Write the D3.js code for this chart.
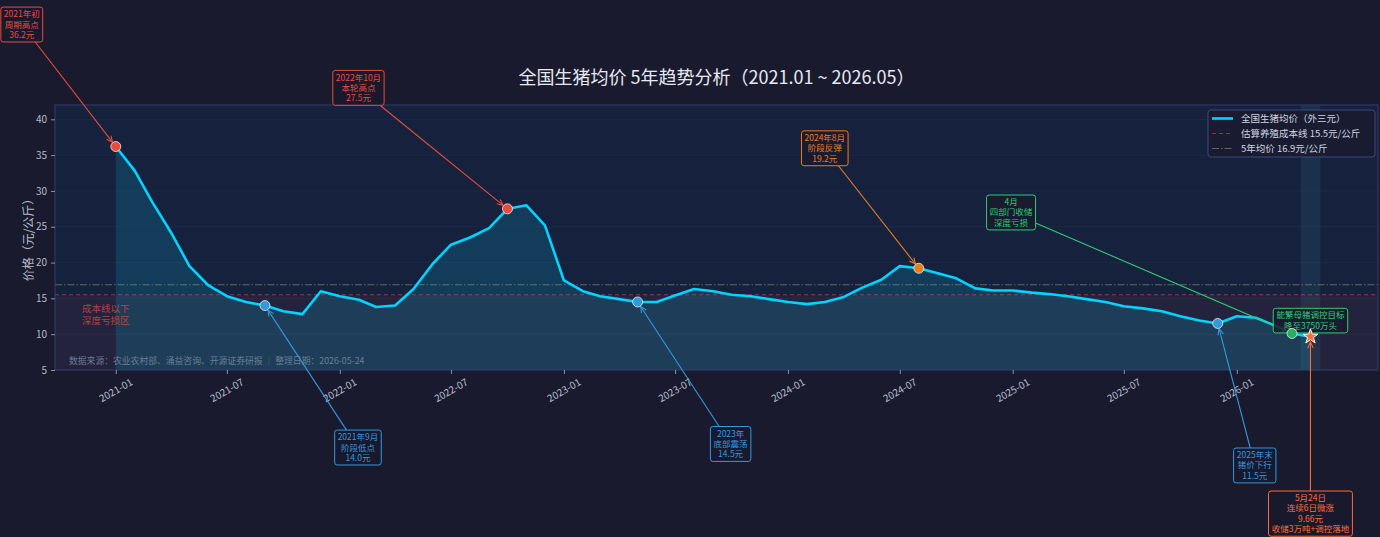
<!DOCTYPE html>
<html>
<head>
<meta charset="utf-8">
<script src="https://cdn.jsdelivr.net/npm/d3@7"></script>
<style>
  body{margin:0;background:#1a1a2e;}
  svg{display:block;font-family:"Noto Sans CJK SC","DejaVu Sans",sans-serif;}
</style>
</head>
<body>
<svg id="chart" width="1380" height="537"></svg>
<script>
//Data
var months = ["2021-01","2021-02","2021-03","2021-04","2021-05","2021-06","2021-07","2021-08","2021-09","2021-10","2021-11","2021-12",
              "2022-01","2022-02","2022-03","2022-04","2022-05","2022-06","2022-07","2022-08","2022-09","2022-10","2022-11","2022-12",
              "2023-01","2023-02","2023-03","2023-04","2023-05","2023-06","2023-07","2023-08","2023-09","2023-10","2023-11","2023-12",
              "2024-01","2024-02","2024-03","2024-04","2024-05","2024-06","2024-07","2024-08","2024-09","2024-10","2024-11","2024-12",
              "2025-01","2025-02","2025-03","2025-04","2025-05","2025-06","2025-07","2025-08","2025-09","2025-10","2025-11","2025-12",
              "2026-01","2026-02","2026-03","2026-04","2026-05"];
var prices = [36.2,32.8,28.5,24.2,19.5,16.8,15.3,14.5,14.0,13.2,12.8,16.0,
              15.3,14.8,13.8,14.0,16.3,19.8,22.5,23.5,24.8,27.5,28.0,25.2,
              17.5,16.0,15.3,14.9,14.5,14.5,15.4,16.3,16.0,15.5,15.3,14.9,
              14.5,14.2,14.5,15.2,16.5,17.6,19.5,19.2,18.5,17.8,16.4,16.1,
              16.1,15.8,15.6,15.3,14.9,14.5,13.9,13.6,13.2,12.5,11.9,11.5,
              12.5,12.3,11.3,10.1,9.66];
var costLine = 15.5;
var avgLine = 16.9;
var yTicks = [5,10,15,20,25,30,35,40];
var xTickLabels = ["2021-01","2021-07","2022-01","2022-07","2023-01","2023-07","2024-01","2024-07","2025-01","2025-07","2026-01"];
var legendLabels = ["全国生猪均价（外三元）","估算养殖成本线 15.5元/公斤","5年均价 16.9元/公斤"];
var bandDates = ["2026-04-15","2026-05-17"];

//Annotations: which month, text lines
var annoMonths = ["2021-01","2022-10","2024-08","2026-04","2026-05","2021-09","2023-05","2025-12","2026-05"];
var annoTexts = [
  ["2021年初","周期高点","36.2元"],
  ["2022年10月","本轮高点","27.5元"],
  ["2024年8月","阶段反弹","19.2元"],
  ["4月","四部门收储","深度亏损"],
  ["能繁母猪调控目标","降至3750万头"],
  ["2021年9月","阶段低点","14.0元"],
  ["2023年","底部震荡","14.5元"],
  ["2025年末","猪价下行","11.5元"],
  ["5月24日","连续6日微涨","9.66元","收储3万吨+调控落地"]
];
//box offsets from the point (px) and colours
var annoStyle = [
  {dx:-94, dy:-122, color:"#e74c3c", arrow:true},
  {dx:-149,dy:-121, color:"#e74c3c", arrow:true},
  {dx:-94, dy:-120, color:"#e67e22", arrow:true},
  {dx:-281,dy:-121, color:"#2ecc71", arrow:true},
  {dx:0,   dy:-16,  color:"#2ecc71", arrow:false},
  {dx:93,  dy:142,  color:"#3498db", arrow:true},
  {dx:93,  dy:142,  color:"#3498db", arrow:true},
  {dx:37,  dy:142,  color:"#3498db", arrow:true},
  {dx:0,   dy:177,  color:"#ff6b35", arrow:true}
];
var markMonths = ["2021-01","2022-10","2021-09","2023-05","2025-12","2024-08","2026-04"];
var markColors = ["#e74c3c","#e74c3c","#3498db","#3498db","#3498db","#e67e22","#27ae60"];
var starMonth = "2026-05";

//Layout
var plotL = 55, plotR = 1378, plotT = 105, plotB = 370;
var svg = d3.select("#chart");
var parseM = d3.utcParse("%Y-%m");
var parseD = d3.utcParse("%Y-%m-%d");

var x = d3.scaleUtc().domain([new Date(Date.UTC(2020,8,24)), new Date(Date.UTC(2026,7,19))]).range([plotL,plotR]);
var y = d3.scaleLinear().domain([5,42]).range([plotB,plotT]);

var data = months.map(function(m,i){ return {date:parseM(m), v:prices[i]}; });
function valueAt(m){ return prices[months.indexOf(m)]; }

svg.append("rect").attr("width",1380).attr("height",537).attr("fill","#1a1a2e");

//plot background
svg.append("rect").attr("x",plotL).attr("y",plotT).attr("width",plotR-plotL).attr("height",plotB-plotT).attr("fill","#16213e");

//grid
svg.append("g").selectAll("line").data(yTicks).enter().append("line")
  .attr("x1",plotL).attr("x2",plotR).attr("y1",function(d){return y(d);}).attr("y2",function(d){return y(d);})
  .attr("stroke","#ffffff").attr("stroke-opacity",0.05).attr("stroke-width",0.8);

//loss zone
svg.append("rect").attr("x",plotL).attr("width",plotR-plotL)
  .attr("y",y(costLine)).attr("height",y(5)-y(costLine))
  .attr("fill","#e74c3c").attr("fill-opacity",0.07);

//recent band
svg.append("rect").attr("x",x(parseD(bandDates[0]))).attr("width",x(parseD(bandDates[1]))-x(parseD(bandDates[0])))
  .attr("y",plotT).attr("height",plotB-plotT).attr("fill","#4ecdc4").attr("fill-opacity",0.09);

//area under curve
var area = d3.area().x(function(d){return x(d.date);}).y0(y(5)).y1(function(d){return y(d.v);});
svg.append("path").datum(data).attr("d",area).attr("fill","#00d4ff").attr("fill-opacity",0.15);

//reference lines
svg.append("line").attr("x1",plotL).attr("x2",plotR).attr("y1",y(costLine)).attr("y2",y(costLine))
  .attr("stroke","#e74c3c").attr("stroke-opacity",0.6).attr("stroke-width",1.1).attr("stroke-dasharray","4,3");
svg.append("line").attr("x1",plotL).attr("x2",plotR).attr("y1",y(avgLine)).attr("y2",y(avgLine))
  .attr("stroke","#a0a080").attr("stroke-opacity",0.55).attr("stroke-width",1.1).attr("stroke-dasharray","7,2,1.5,2");

//main line
var line = d3.line().x(function(d){return x(d.date);}).y(function(d){return y(d.v);});
svg.append("path").datum(data).attr("d",line).attr("fill","none")
  .attr("stroke","#00d4ff").attr("stroke-width",2.6).attr("stroke-linejoin","round");

//frame
svg.append("rect").attr("x",plotL).attr("y",plotT).attr("width",plotR-plotL).attr("height",plotB-plotT)
  .attr("fill","none").attr("stroke","#2d3e6b").attr("stroke-width",1);

//axes
var yAxis = svg.append("g").attr("transform","translate("+plotL+",0)")
  .call(d3.axisLeft(y).tickValues(yTicks).tickSize(4).tickPadding(4));
var xAxis = svg.append("g").attr("transform","translate(0,"+plotB+")")
  .call(d3.axisBottom(x).tickValues(xTickLabels.map(parseM)).tickFormat(d3.utcFormat("%Y-%m")).tickSize(4));
[yAxis,xAxis].forEach(function(a){
  a.select(".domain").remove();
  a.selectAll("line").attr("stroke","#8a93a8");
  a.selectAll("text").attr("fill","#b4bac8").attr("font-size","10px").attr("font-family","\"Noto Sans CJK SC\",\"DejaVu Sans\",sans-serif");
});
xAxis.selectAll("text").attr("y",0).attr("dy",null).attr("text-anchor","middle")
  .attr("dominant-baseline","middle").attr("transform","translate(0,21) rotate(-30)");

//texts inside plot
var lossTxt = svg.append("text").attr("x",82).attr("y",312).attr("fill","#e74c3c").attr("fill-opacity",0.75).attr("font-size","9.5px");
lossTxt.append("tspan").attr("x",82).text("成本线以下");
lossTxt.append("tspan").attr("x",82).attr("dy",11.5).text("深度亏损区");

svg.append("text").attr("x",69).attr("y",364).attr("fill","#8090a8").attr("fill-opacity",0.8).attr("font-size","8.8px")
  .text("数据来源：农业农村部、涌益咨询、开源证券研报  │  整理日期：2026-05-24");

//annotations
var annoG = svg.append("g");
annoMonths.forEach(function(m,i){
  var st = annoStyle[i];
  var px = x(parseM(m)), py = y(valueAt(m));
  var bx = px+st.dx, by = py+st.dy;
  var lines = annoTexts[i];
  var lh = 10.3;
  var g = annoG.append("g");
  var rect = g.append("rect");
  var t = g.append("text").attr("text-anchor","middle").attr("font-size","8.5px").attr("fill",st.color);
  lines.forEach(function(s,k){
    t.append("tspan").attr("x",bx).attr("y",by-(lines.length-1)*lh/2+k*lh+3).text(s);
  });
  var bb = t.node().getBBox();
  var pw = 3, ph = 2;
  var rx0 = bx-bb.width/2-pw, rx1 = bx+bb.width/2+pw;
  var ry0 = by-lines.length*lh/2-ph, ry1 = by+lines.length*lh/2+ph;
  rect.attr("x",rx0).attr("y",ry0).attr("width",rx1-rx0).attr("height",ry1-ry0).attr("rx",2.5)
    .attr("fill","#1a1a2e").attr("fill-opacity",0.85).attr("stroke",st.color).attr("stroke-width",1);
  if(st.arrow){
    //start on the box edge
    var ddx = px-bx, ddy = py-by;
    var hw = (rx1-rx0)/2, hh = (ry1-ry0)/2;
    var s = Math.min(ddx===0?Infinity:hw/Math.abs(ddx), ddy===0?Infinity:hh/Math.abs(ddy));
    var sx = bx+ddx*s, sy = by+ddy*s;
    var len = Math.sqrt((px-sx)*(px-sx)+(py-sy)*(py-sy));
    var ux = (px-sx)/len, uy = (py-sy)/len;
    var ex = px-ux*5.5, ey = py-uy*5.5;
    annoG.insert("line",":first-child").attr("x1",sx).attr("y1",sy).attr("x2",ex).attr("y2",ey)
      .attr("stroke",st.color).attr("stroke-width",1.1);
    var hl = 6, hwid = 2.8;
    annoG.insert("path",":first-child")
      .attr("d","M"+(ex-ux*hl-uy*hwid)+","+(ey-uy*hl+ux*hwid)+"L"+ex+","+ey+"L"+(ex-ux*hl+uy*hwid)+","+(ey-uy*hl-ux*hwid))
      .attr("fill","none").attr("stroke",st.color).attr("stroke-width",1.1);
  }
});

//point markers
svg.append("g").selectAll("circle").data(markMonths).enter().append("circle")
  .attr("cx",function(m){return x(parseM(m));}).attr("cy",function(m){return y(valueAt(m));})
  .attr("r",5).attr("fill",function(m,i){return markColors[i];})
  .attr("stroke","#ffffff").attr("stroke-opacity",0.7).attr("stroke-width",1);
svg.append("path").attr("d",d3.symbol(d3.symbolStar).size(70)())
  .attr("transform","translate("+x(parseM(starMonth))+","+y(valueAt(starMonth))+")")
  .attr("fill","#ff6b35").attr("stroke","#ffffff").attr("stroke-width",1);

//legend
var lg = svg.append("g");
lg.append("rect").attr("x",1208).attr("y",110).attr("width",167).attr("height",47).attr("rx",3)
  .attr("fill","#1a1a2e").attr("fill-opacity",0.85).attr("stroke","#3a4a7a").attr("stroke-width",1);
var legStyles = [
  {stroke:"#00d4ff", w:2.6, dash:null, op:1},
  {stroke:"#e74c3c", w:1.1, dash:"4,3", op:0.6},
  {stroke:"#a0a080", w:1.1, dash:"7,2,1.5,2", op:0.55}
];
legendLabels.forEach(function(l,i){
  var yy = 118.5+i*15;
  lg.append("line").attr("x1",1212).attr("x2",1233).attr("y1",yy).attr("y2",yy)
    .attr("stroke",legStyles[i].stroke).attr("stroke-width",legStyles[i].w)
    .attr("stroke-dasharray",legStyles[i].dash).attr("stroke-opacity",legStyles[i].op);
  lg.append("text").attr("x",1241).attr("y",yy+3.5).attr("fill","#d0d4e0").attr("font-size","9.5px").text(l);
});

//title and axis label
svg.append("text").attr("x",(plotL+plotR)/2).attr("y",84).attr("text-anchor","middle")
  .attr("fill","#e6e8f0").attr("font-size","18px").text("全国生猪均价 5年趋势分析（2021.01 ~ 2026.05）");
svg.append("text").attr("transform","translate(33,237) rotate(-90)").attr("text-anchor","middle")
  .attr("fill","#b4bac8").attr("font-size","12px").text("价格（元/公斤）");
</script>
</body>
</html>
